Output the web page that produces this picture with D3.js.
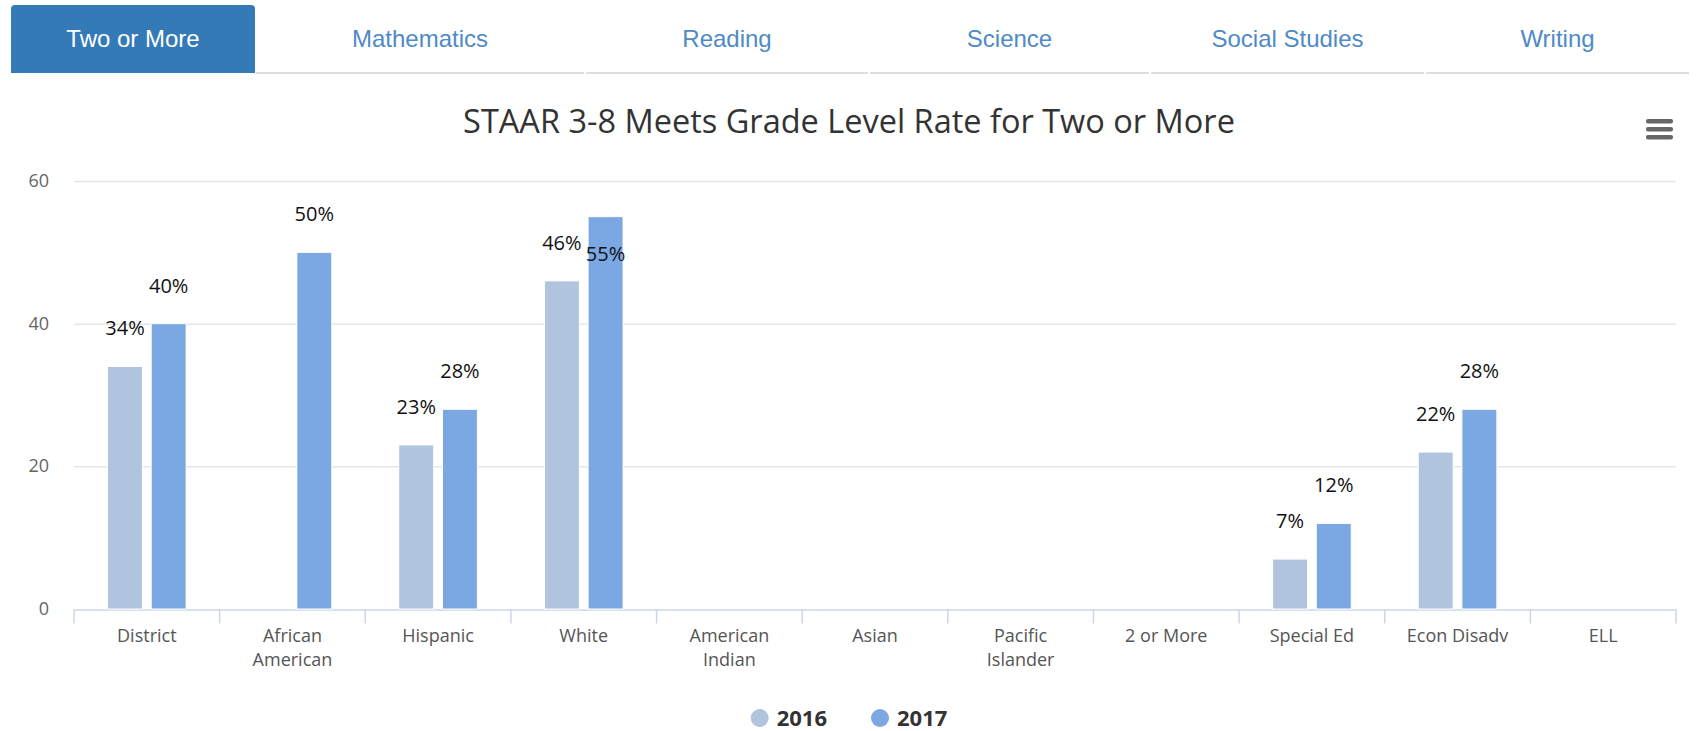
<!DOCTYPE html>
<html lang="en">
<head>
<meta charset="UTF-8">
<title>STAAR 3-8 Meets Grade Level Rate</title>
<script src="https://d3js.org/d3.v7.min.js"></script>
<style>
  body { margin: 0; background: #fff; }
  svg { display: block; }
</style>
</head>
<body>
<script>
// tabs across the top
var tabs = ['Two or More', 'Mathematics', 'Reading', 'Science', 'Social Studies', 'Writing'];
var tabEdges = [11, 255, 585, 869, 1150, 1425, 1690];

// chart data
var title = 'STAAR 3-8 Meets Grade Level Rate for Two or More';
var categories = ['District', 'African American', 'Hispanic', 'White', 'American Indian', 'Asian',
    'Pacific Islander', '2 or More', 'Special Ed', 'Econ Disadv', 'ELL'];
var years = ['2016', '2017'];
var values2016 = [34, null, 23, 46, null, null, null, null, 7, 22, null];
var values2017 = [40, 50, 28, 55, null, null, null, null, 12, 28, null];
var yTicks = [0, 20, 40, 60];
var colors = ['#b0c4de', '#7ba7e3'];

var width = 1698, height = 731;
var margin = { left: 74, right: 22, top: 181, bottom: 122 };

var svg = d3.select('body').append('svg').attr('width', width).attr('height', height);

// ---- tabs
var tabG = svg.append('g');
tabs.forEach(function (t, i) {
    var x0 = tabEdges[i], x1 = tabEdges[i + 1];
    if (i === 0) {
        var r = 4;
        tabG.append('path')
            .attr('d', 'M' + x0 + ',73 V' + (5 + r) + ' Q' + x0 + ',5 ' + (x0 + r) + ',5 H' + (x1 - r) +
                ' Q' + x1 + ',5 ' + x1 + ',' + (5 + r) + ' V73 Z')
            .attr('fill', '#337ab7');
    } else {
        tabG.append('line')
            .attr('x1', x0 + 1).attr('x2', x1 - 1).attr('y1', 73).attr('y2', 73)
            .attr('stroke', '#dddddd').attr('stroke-width', 2);
    }
    tabG.append('text')
        .attr('x', (x0 + x1) / 2).attr('y', 47)
        .attr('text-anchor', 'middle')
        .style('font-family', '"Liberation Sans", Arial, sans-serif')
        .style('font-size', '24px')
        .attr('fill', i === 0 ? '#ffffff' : '#4f8ac6')
        .text(t);
});

// ---- title
svg.append('text')
    .attr('x', width / 2).attr('y', 133)
    .attr('text-anchor', 'middle')
    .style('font-family', '"Open Sans", sans-serif')
    .style('font-size', '32.5px')
    .attr('fill', '#333333')
    .text(title);

// hamburger menu
var menu = svg.append('g').attr('fill', '#666666');
[0, 1, 2].forEach(function (k) {
    menu.append('rect').attr('x', 1646).attr('y', 119 + k * 8).attr('width', 27).attr('height', 4.5).attr('rx', 2);
});

// ---- scales
var x = d3.scaleBand().domain(categories).range([margin.left, width - margin.right]);
var y = d3.scaleLinear().domain([0, 60]).range([height - margin.bottom, margin.top]);
// highcharts style grouping: groupPadding 0.2, pointPadding 0.1
var groupPad = 0.2, pointPad = 0.1;
var slot = x.bandwidth() * (1 - 2 * groupPad) / years.length;
var barW = slot * (1 - 2 * pointPad);

// grid
svg.append('g').selectAll('line').data(yTicks.slice(1)).join('line')
    .attr('x1', margin.left).attr('x2', width - margin.right)
    .attr('y1', function (d) { return y(d) + 0.5; }).attr('y2', function (d) { return y(d) + 0.5; })
    .attr('stroke', '#e6e6e6').attr('stroke-width', 1.5);

// y labels
svg.append('g').selectAll('text').data(yTicks).join('text')
    .attr('x', 49).attr('y', function (d) { return y(d) + 6; })
    .attr('text-anchor', 'end')
    .style('font-family', '"Open Sans", sans-serif').style('font-size', '18px')
    .attr('fill', '#666666')
    .text(function (d) { return d; });

// x axis
var xAxis = d3.axisBottom(x).tickSize(0).tickFormat('');
var axG = svg.append('g').attr('transform', 'translate(0,' + (y(0) + 0.5) + ')').call(xAxis);
axG.select('.domain').attr('stroke', '#ccd6eb').attr('stroke-width', 1.5);
var edges = categories.map(function (c) { return x(c); }).concat([x(categories[categories.length - 1]) + x.bandwidth()]);
axG.selectAll('.edge').data(edges).join('line')
    .attr('x1', function (d) { return d; }).attr('x2', function (d) { return d; })
    .attr('y1', 0).attr('y2', 14)
    .attr('stroke', '#ccd6eb').attr('stroke-width', 1.5);

// x labels, wrapped
var xl = svg.append('g').selectAll('text').data(categories).join('text')
    .attr('x', function (d) { return x(d) + x.bandwidth() / 2; })
    .attr('y', y(0) + 33)
    .attr('text-anchor', 'middle')
    .style('font-family', '"Open Sans", sans-serif').style('font-size', '18px')
    .attr('fill', '#555555')
    .text(function (d) { return d; });
xl.each(function (d) {
    var el = d3.select(this);
    if (this.getComputedTextLength() > 120 && d.indexOf(' ') > 0) {
        var parts = d.split(' ');
        el.text(null);
        parts.forEach(function (p, i) {
            el.append('tspan').attr('x', x(d) + x.bandwidth() / 2).attr('dy', i === 0 ? 0 : 24).text(p);
        });
    }
});

// ---- bars
var series = [values2016, values2017];
var points = [];
series.forEach(function (vals, s) {
    vals.forEach(function (v, i) {
        if (v !== null) points.push({ cat: categories[i], v: v, s: s });
    });
});
function barX(d) { return x(d.cat) + x.bandwidth() * groupPad + slot * d.s + slot * pointPad; }

svg.append('g').selectAll('rect').data(points).join('rect')
    .attr('x', barX)
    .attr('y', function (d) { return y(d.v); })
    .attr('width', barW)
    .attr('height', function (d) { return y(0) - y(d.v); })
    .attr('fill', function (d) { return colors[d.s]; })
    .attr('stroke', '#ffffff').attr('stroke-width', 1);

// data labels (pushed inside the bar when they would leave the plot)
svg.append('g').selectAll('text').data(points).join('text')
    .attr('x', function (d) { return barX(d) + barW / 2; })
    .attr('y', function (d) {
        var ly = y(d.v) - 31;
        if (ly - 16 < margin.top) ly = y(d.v) + 44;
        return ly;
    })
    .attr('text-anchor', 'middle')
    .style('font-family', '"Open Sans", sans-serif').style('font-size', '20px')
    .attr('fill', '#111111')
    .text(function (d) { return d.v + '%'; });

// ---- legend
var leg = svg.append('g');
var items = leg.selectAll('g').data(years).join('g');
items.append('circle').attr('r', 9).attr('cy', 0).attr('cx', 9)
    .attr('fill', function (d, i) { return colors[i]; });
items.append('text').attr('x', 26).attr('y', 8)
    .style('font-family', '"Open Sans", sans-serif').style('font-size', '22px').style('font-weight', 'bold')
    .attr('fill', '#333333')
    .text(function (d) { return d; });
var pos = 0, gap = 44;
items.each(function () {
    var w = this.getBBox().width;
    d3.select(this).attr('data-x', pos);
    pos += w + gap;
});
var total = pos - gap;
items.attr('transform', function () {
    return 'translate(' + (width / 2 - total / 2 + (+d3.select(this).attr('data-x'))) + ',718)';
});
</script>
</body>
</html>
